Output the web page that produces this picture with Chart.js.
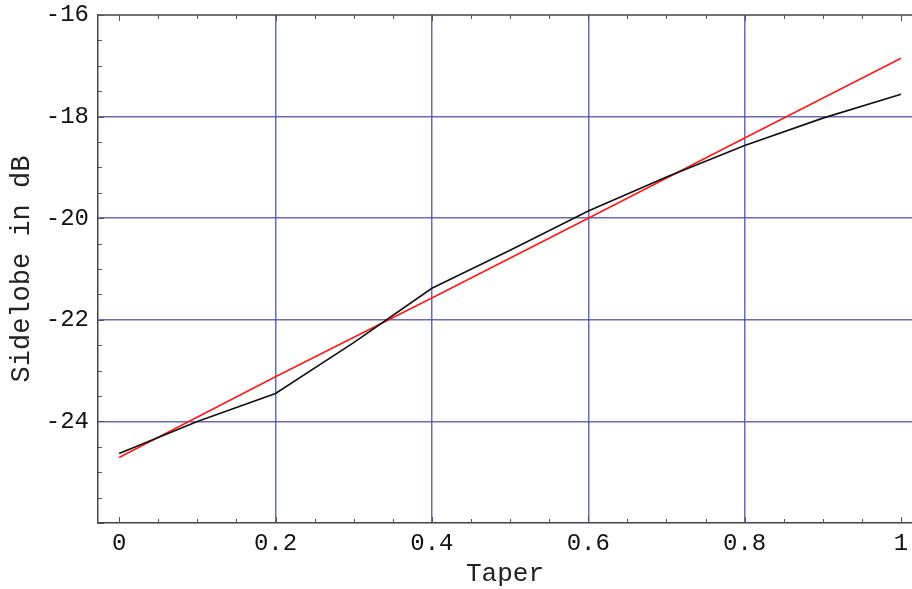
<!DOCTYPE html>
<html>
<head>
<meta charset="utf-8">
<script src="https://cdn.jsdelivr.net/npm/chart.js@4/dist/chart.umd.min.js"></script>
<style>
html,body{margin:0;padding:0;background:#fff;}
#wrap{width:912px;height:589px;position:relative;}
</style>
</head>
<body>
<div id="wrap"><canvas id="c"></canvas></div>
<script>
// Data
const taperBlack = [0, 0.1, 0.2, 0.3, 0.4, 0.5, 0.6, 0.7, 0.8, 0.9, 1.0];
const sidelobeBlack = [-24.63, -24.0, -23.45, -22.45, -21.38, -20.63, -19.86, -19.19, -18.57, -18.03, -17.56];
const taperRed = [0, 0.2, 0.4, 0.6, 0.8, 1.0];
const sidelobeRed = [-24.71, -23.12, -21.57, -20.0, -18.42, -16.85];
const xTickLabels = ['0', '0.2', '0.4', '0.6', '0.8', '1'];
const yTickLabels = ['-16', '-18', '-20', '-22', '-24'];
const xGridValues = [0.2, 0.4, 0.6, 0.8];
const yGridValues = [-18, -20, -22, -24];

const FONT = "'Liberation Mono', 'DejaVu Sans Mono', monospace";
const GRID = 'rgba(80,80,175,0.85)';
const FRAME = '#444';

function near(a, b) { return Math.abs(a - b) < 1e-6; }

const framePlugin = {
  id: 'frame',
  afterDatasetsDraw(chart) {
    const ctx = chart.ctx, xs = chart.scales.x, ys = chart.scales.y;
    const a = chart.chartArea;
    ctx.save();
    ctx.strokeStyle = FRAME;
    ctx.lineWidth = 1.5;
    ctx.beginPath();
    ctx.moveTo(a.left, a.top);
    ctx.lineTo(a.right, a.top);
    ctx.stroke();
    ctx.lineWidth = 1;
    ctx.strokeStyle = '#555';
    for (let i = 0; i <= 20; i++) {
      const v = i * 0.05;
      const px = Math.round(xs.getPixelForValue(v)) + 0.5;
      const len = (i % 4 === 0) ? 6 : 4;
      ctx.beginPath();
      ctx.moveTo(px, a.bottom); ctx.lineTo(px, a.bottom - len);
      ctx.moveTo(px, a.top); ctx.lineTo(px, a.top + len);
      ctx.stroke();
    }
    for (let i = 0; i <= 20; i++) {
      const v = -26 + i * 0.5;
      const py = Math.round(ys.getPixelForValue(v)) + 0.5;
      const len = (i % 4 === 0) ? 6 : 4;
      ctx.beginPath();
      ctx.moveTo(a.left, py); ctx.lineTo(a.left + len, py);
      ctx.stroke();
    }
    ctx.restore();
  }
};

new Chart(document.getElementById('c'), {
  type: 'line',
  data: {
    datasets: [
      {
        data: taperBlack.map((x, i) => ({x, y: sidelobeBlack[i]})),
        borderColor: '#111', borderWidth: 1.6, pointRadius: 0, tension: 0, order: 1
      },
      {
        data: taperRed.map((x, i) => ({x, y: sidelobeRed[i]})),
        borderColor: '#ff1a1a', borderWidth: 1.6, pointRadius: 0, tension: 0, order: 2
      }
    ]
  },
  options: {
    responsive: true,
    maintainAspectRatio: false,
    animation: false,
    layout: { padding: { top: 15, right: 0, left: 0, bottom: 0 } },
    plugins: { legend: { display: false }, tooltip: { enabled: false } },
    scales: {
      x: {
        type: 'linear',
        min: -0.027, max: 1.014,
        afterFit(s) { s.height = 66; s.paddingLeft = 0; s.paddingRight = 0; },
        afterBuildTicks(s) {
          s.ticks = [0, 0.2, 0.4, 0.6, 0.8, 1].map(v => ({value: v}));
        },
        ticks: {
          autoSkip: false, maxRotation: 0, padding: 6,
          color: '#111',
          font: { family: FONT, size: 24 },
          callback: (v, i) => xTickLabels[i]
        },
        grid: {
          drawTicks: false, lineWidth: 1.5,
          color: c => (c.tick && xGridValues.some(g => near(g, c.tick.value))) ? GRID : 'rgba(0,0,0,0)'
        },
        border: { display: true, color: FRAME, width: 1.5 },
        title: {
          display: true, text: 'Taper', color: '#222',
          font: { family: FONT, size: 26, lineHeight: 1.0 },
          padding: { top: 0, bottom: 2 }
        }
      },
      y: {
        type: 'linear',
        min: -26, max: -16,
        afterFit(s) { s.width = 98; s.paddingTop = 0; s.paddingBottom = 0; },
        afterBuildTicks(s) {
          s.ticks = [-16, -18, -20, -22, -24].map(v => ({value: v}));
        },
        ticks: {
          autoSkip: false, padding: 9,
          color: '#111',
          font: { family: FONT, size: 24 },
          callback: (v, i) => yTickLabels[i]
        },
        grid: {
          drawTicks: false, lineWidth: 1.5,
          color: c => (c.tick && yGridValues.some(g => near(g, c.tick.value))) ? GRID : 'rgba(0,0,0,0)'
        },
        border: { display: true, color: FRAME, width: 1.5 },
        title: {
          display: true, text: 'Sidelobe in dB', color: '#222',
          font: { family: FONT, size: 27, lineHeight: 1.0 },
          padding: { top: 8, bottom: 0 }
        }
      }
    }
  },
  plugins: [framePlugin]
});
</script>
</body>
</html>
